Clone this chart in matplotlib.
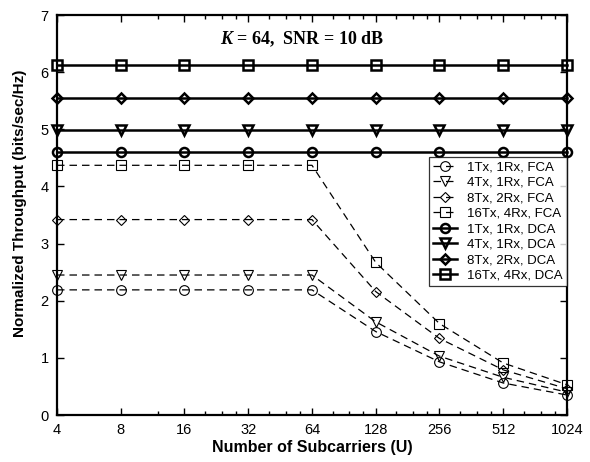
import matplotlib
matplotlib.use("Agg")
import matplotlib.pyplot as plt
import numpy as np

plt.rcParams['font.family'] = ['Liberation Sans', 'DejaVu Sans']
plt.rcParams['mathtext.fontset'] = 'custom'
plt.rcParams['mathtext.it'] = 'Liberation Serif:italic:bold'
plt.rcParams['mathtext.rm'] = 'Liberation Serif:bold'

# subcarriers
U = [4, 8, 16, 32, 64, 128, 256, 512, 1024]

# FCA curves
fca_1x1 = [2.19, 2.19, 2.19, 2.19, 2.19, 1.46, 0.93, 0.56, 0.35]
fca_4x1 = [2.45, 2.45, 2.45, 2.45, 2.45, 1.63, 1.03, 0.66, 0.40]
fca_8x2 = [3.42, 3.42, 3.42, 3.42, 3.42, 2.16, 1.34, 0.79, 0.46]
fca_16x4 = [4.37, 4.37, 4.37, 4.37, 4.37, 2.67, 1.60, 0.91, 0.53]

# DCA curves (flat)
dca_1x1 = [4.61] * 9
dca_4x1 = [4.98] * 9
dca_8x2 = [5.55] * 9
dca_16x4 = [6.13] * 9

fig = plt.figure(figsize=(5.9, 4.62), dpi=100)
ax = fig.add_axes([0.0966, 0.1017, 0.8644, 0.8658])

fca = [(fca_1x1, 'o', '1Tx, 1Rx, FCA'), (fca_4x1, 'v', '4Tx, 1Rx, FCA'),
       (fca_8x2, 'D', '8Tx, 2Rx, FCA'), (fca_16x4, 's', '16Tx, 4Rx, FCA')]
dca = [(dca_1x1, 'o', '1Tx, 1Rx, DCA'), (dca_4x1, 'v', '4Tx, 1Rx, DCA'),
       (dca_8x2, 'D', '8Tx, 2Rx, DCA'), (dca_16x4, 's', '16Tx, 4Rx, DCA')]

for vals, m, lab in fca:
    ms = 5.5 if m == 'D' else 7
    ax.plot(U, vals, color='black', lw=0.9, dashes=(6, 4), marker=m,
            markersize=ms, markerfacecolor='none', markeredgecolor='black',
            markeredgewidth=0.8, label=lab, clip_on=False)

for vals, m, lab in dca:
    ms = 5.5 if m == 'D' else 6.5
    ax.plot(U, vals, color='black', lw=1.8, marker=m, markersize=ms,
            markerfacecolor='none', markeredgecolor='black',
            markeredgewidth=1.8, label=lab, clip_on=False)

ax.set_xscale('log', base=2)
ax.set_xlim(4, 1024)
ax.set_ylim(0, 7)
ax.set_xticks(U)
ax.set_xticklabels([str(u) for u in U])
minor = [12, 20, 24, 28, 40, 48, 56, 80, 96, 112, 160, 192, 224,
         320, 384, 448, 640, 768, 896]
ax.set_xticks(minor, minor=True)
ax.set_xticklabels([], minor=True)
ax.set_yticks(range(8))
ax.tick_params(which='both', direction='in', top=True, right=True,
               labelsize=10.5, width=1, pad=6)
ax.tick_params(which='major', length=5)
ax.tick_params(which='minor', length=3)
for s in ax.spines.values():
    s.set_linewidth(1.6)

ax.set_xlabel('Number of Subcarriers (U)', fontsize=11.5, fontweight='bold',
              labelpad=2)
ax.set_ylabel('Normalized Throughput (bits/sec/Hz)', fontsize=11,
              fontweight='bold')
ax.yaxis.set_label_coords(-0.058, 0.53)

ax.text(0.48, 0.94, r'$K$ = 64,  SNR = 10 dB',
        transform=ax.transAxes, ha='center', va='center', fontsize=13,
        fontweight='bold', family='Liberation Serif')

leg = ax.legend(loc='upper right', bbox_to_anchor=(1.0, 0.645),
                fontsize=9.5, frameon=True, fancybox=False, edgecolor='black',
                handlelength=1.8, borderaxespad=0, labelspacing=0.25,
                borderpad=0.3, handletextpad=0.8)
leg.get_frame().set_linewidth(0.9)
for t in leg.get_texts():
    t.set_ha('right')
leg._legend_box.align = 'right'

fig.savefig('out.png', dpi=100)
